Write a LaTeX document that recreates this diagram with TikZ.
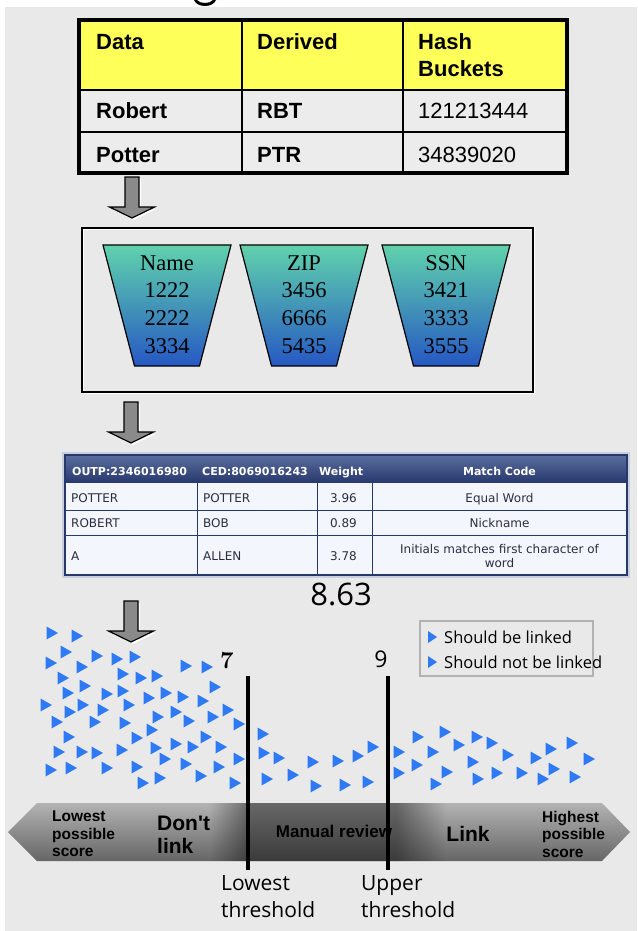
\documentclass[tikz,border=0pt]{standalone}
\usepackage{fontspec}
\usetikzlibrary{fadings,positioning}
\newfontfamily\arialf{Liberation Sans}
\newfontfamily\timesf{Liberation Serif}
\newfontfamily\verdf{DejaVu Sans}
\newfontfamily\plexf{Open Sans}
\newcommand\fsz[2]{\fontsize{#1}{#2}\selectfont}
\definecolor{bgc}{RGB}{233,233,233}
\definecolor{hdyellow}{RGB}{255,255,90}
\definecolor{cellgray}{RGB}{236,236,236}
\definecolor{funtop}{RGB}{96,210,172}
\definecolor{funmid}{RGB}{90,198,222}
\definecolor{funbot}{RGB}{38,88,195}
\definecolor{navy}{RGB}{38,56,108}
\definecolor{navylt}{RGB}{92,110,158}
\definecolor{rowblue}{RGB}{243,246,252}
\definecolor{tbledge}{RGB}{200,207,222}
\definecolor{txtdark}{RGB}{45,45,65}
\definecolor{tricol}{RGB}{46,122,244}
\definecolor{arrgray}{RGB}{138,138,138}
\tikzfading[name=fadein, left color=transparent!100, right color=transparent!0]
\tikzfading[name=fadeout, left color=transparent!0, right color=transparent!100]

\begin{document}
\begin{tikzpicture}[x=1pt,y=-1pt,
  lbl/.style={inner sep=0pt, anchor=base west},
  ctr/.style={inner sep=0pt, anchor=base},
  rgt/.style={inner sep=0pt, anchor=base east},
  tri/.pic={\fill[tricol] (-5.5,-6.5) -- (6,0) -- (-5.5,6.5) -- cycle;},
  legtri/.pic={\fill[tricol] (-4,-6) -- (5,0) -- (-4,6) -- cycle;},
  downarr/.pic={
    \fill[white] (-5,2) -- (9,2) -- (9,32) -- (24.5,32) -- (2,43) -- (-20.5,32) -- (-5,32) -- cycle;
    \filldraw[fill=arrgray, line width=1.2pt] (-7,0) -- (7,0) -- (7,30) -- (22.5,30) -- (0,41) -- (-22.5,30) -- (-7,30) -- cycle;},
  bartxt/.style={inner sep=0pt, font=\arialf\bfseries, align=left}]
\useasboundingbox (0,0) rectangle (637,931);
\fill[white] (0,0) rectangle (637,931);
\fill[bgc] (5,7) rectangle (637,931);
\fill (194,0) .. controls (197,8) and (213,8) .. (216,0) -- (213,0) .. controls (210,4) and (200,4) .. (197,0) -- cycle;

% hash table
\fill[hdyellow] (79,20) rectangle (567,90);
\fill[cellgray] (79,90) rectangle (567,173);
\draw[line width=1.4pt] (79,90) -- (567,90) (79,132) -- (567,132) (242,20) -- (242,173) (403,20) -- (403,173);
\draw[line width=3.5pt] (79,20) rectangle (567,173);
\begin{scope}[every node/.style={lbl, font=\arialf\bfseries\fsz{22}{26}}]
\node (hData) at (96,50) {Data};
\node (hDerived) at (257,50) {Derived};
\node (hHash) at (418,50) {Hash};
\node (hBuckets) at (418,77) {Buckets};
\node (dRobert) at (96,119) {Robert};
\node (dRBT) at (257,119) {RBT};
\node (dPotter) at (96,162) {Potter};
\node (dPTR) at (257,162) {PTR};
\end{scope}
\node[lbl, font=\arialf\fsz{22}{26}] (hb1) at (418,119) {121213444};
\node[lbl, font=\arialf\fsz{22}{26}] (hb2) at (418,162) {34839020};

\pic at (132,177) {downarr};

% buckets
\draw[white, line width=3pt] (82,228) rectangle (533,392);
\draw[line width=1.3pt] (82,228) rectangle (533,392);
\foreach \cx/\hd/\va/\vb/\vc [count=\i] in {167/Name/1222/2222/3334, 304/ZIP/3456/6666/5435, 446/SSN/3421/3333/3555}{
  \shadedraw[top color=funtop, middle color=funmid, bottom color=funbot, line width=1.2pt]
    (\cx-64,245) -- (\cx+64,245) -- (\cx+32.5,366) -- (\cx-32.5,366) -- cycle;
  \node[ctr, font=\timesf\fsz{22.5}{26}] (fh\i) at (\cx,270) {\hd};
  \node[ctr, font=\timesf\fsz{22.5}{26}] (fa\i) at (\cx,297.5) {\va};
  \node[ctr, font=\timesf\fsz{22.5}{26}] (fb\i) at (\cx,325) {\vb};
  \node[ctr, font=\timesf\fsz{22.5}{26}] (fc\i) at (\cx,353) {\vc};
}

\pic at (131,402) {downarr};

% match table
\draw[tbledge, line width=2.5pt] (63,453) rectangle (629,577);
\shade[top color=navylt, bottom color=navy] (65,455) rectangle (627,483);
\fill[rowblue] (65,483) rectangle (627,575);
\draw[navy, line width=1pt] (65,510) -- (627,510) (65,535) -- (627,535)
  (197,483) -- (197,575) (317,483) -- (317,575) (372,483) -- (372,575);
\draw[navy, line width=1.2pt] (65,455) rectangle (627,575);
\begin{scope}[every node/.append style={text=white, font=\verdf\bfseries\fsz{11}{13}}]
\node[lbl] (mOutp) at (72,475) {OUTP:2346016980};
\node[lbl] (mCed) at (202,475) {CED:8069016243};
\node[lbl] (mWeight) at (319,475) {Weight};
\node[ctr] (mCode) at (499.5,475) {Match Code};
\end{scope}
\begin{scope}[every node/.append style={text=txtdark, font=\verdf\fsz{12}{14}}]
\node[lbl] (r1a) at (71,502) {POTTER};
\node[lbl] (r1b) at (203,502) {POTTER};
\node[rgt] (r1c) at (357,502) {3.96};
\node[ctr] (r1d) at (499.5,502) {Equal Word};
\node[lbl] (r2a) at (71,527) {ROBERT};
\node[lbl] (r2b) at (203,527) {BOB};
\node[rgt] (r2c) at (357,527) {0.89};
\node[ctr] (r2d) at (499.5,527) {Nickname};
\node[lbl] (r3a) at (71,560) {A};
\node[lbl] (r3b) at (203,560) {ALLEN};
\node[rgt] (r3c) at (357,560) {3.78};
\node[ctr] (r3d) at (499.5,553) {Initials matches first character of};
\node[ctr] (r3e) at (499.5,567) {word};
\end{scope}
\node[ctr, font=\plexf\fsz{31}{36}] (score) at (341,605) {8.63};

\pic at (131,601) {downarr};

% records
\foreach \x/\y in {52/633,77/636,66/652,97/656,117/659,135/657,51/663,82/667,123/674,141/678,
  157/676,63/678,85/686,68/693,107/694,123/691,149/698,46/705,70/712,83/705,103/710,129/705,
  57/722,95/722,125/723,158/717,69/737,137/738,152/730,59/752,82/752,97/753,122/750,156/748,
  51/770,71/768,107/768,137/767,143/783,160/778,
  186/666,207/667,215/687,166/693,183/697,203/701,228/710,176/712,189/721,213/717,239/724,
  206/737,176/744,193/747,221/747,165/759,186/764,219/767,239/759,201/776,235/783,
  263/734,264/753,279/758,267/779,293/775,313/762,316/786,338/761,345/785,358/756,368/782,373/747,
  399/752,399/773,418/737,417/765,433/752,436/784,447/772,445/732,459/745,477/737,473/762,
  478/779,492/743,497/773,508/755,522/773,536/758,543/779,551/749,554/769,572/743,589/759,575/777}
  \pic at (\x,\y) {tri};

% legend
\draw[black!30, line width=1.2pt] (420,621) rectangle (593,676);
\pic at (432,637) {legtri};
\pic at (432,662) {legtri};
\node[inner sep=0pt, anchor=west, font=\plexf\fsz{16.5}{20}] (lgYes) at (444,637) {Should be linked};
\node[inner sep=0pt, anchor=west, font=\plexf\fsz{16.5}{20}] (lgNo) at (444,662) {Should not be linked};

% score bar
\begin{scope}
\clip (8,832) -- (37,803) -- (602,803) -- (630,832) -- (602,861) -- (37,861) -- cycle;
\shade[top color=black!30, middle color=black!8, bottom color=black!60] (0,803) rectangle (637,861);
\fill[black, opacity=0.42, path fading=fadein] (210,800) rectangle (250,865);
\fill[black, opacity=0.42] (250,800) rectangle (396,865);
\fill[black, opacity=0.42, path fading=fadeout] (396,800) rectangle (445,865);
\end{scope}
\node[bartxt, anchor=west, font=\arialf\bfseries\fsz{15.5}{17.5}] (sLow) at (52,834) {Lowest\\possible\\score};
\node[bartxt, anchor=west, font=\arialf\bfseries\fsz{21}{23}] (sDont) at (157,835) {Don't\\link};
\node[bartxt, font=\arialf\bfseries\fsz{17}{20}] (sManual) at (334,831) {Manual review};
\node[bartxt, font=\arialf\bfseries\fsz{21}{24}] (sLink) at (468,834) {Link};
\node[bartxt, anchor=west, font=\arialf\bfseries\fsz{15.5}{17.5}] (sHigh) at (542,834) {Highest\\possible\\score};

% thresholds
\coordinate (t7top) at (248,676);
\coordinate (t7bot) at (248,870);
\coordinate (t9top) at (388,676);
\coordinate (t9bot) at (388,870);
\draw[line width=4pt] (t7top) -- (t7bot);
\draw[line width=4pt] (t9top) -- (t9bot);
\node[font=\bfseries\fsz{24}{28}] (lbl7) at (227,661) {7};
\node[font=\plexf\fsz{23}{28}] (lbl9) at (381,659) {9};
\node[inner sep=0pt, anchor=north west, align=left, font=\plexf\fsz{21}{27}] (thLow) at (221,875) {Lowest\\threshold};
\node[inner sep=0pt, anchor=north west, align=left, font=\plexf\fsz{21}{27}] (thUp) at (361,875) {Upper\\threshold};
\end{tikzpicture}
\end{document}
